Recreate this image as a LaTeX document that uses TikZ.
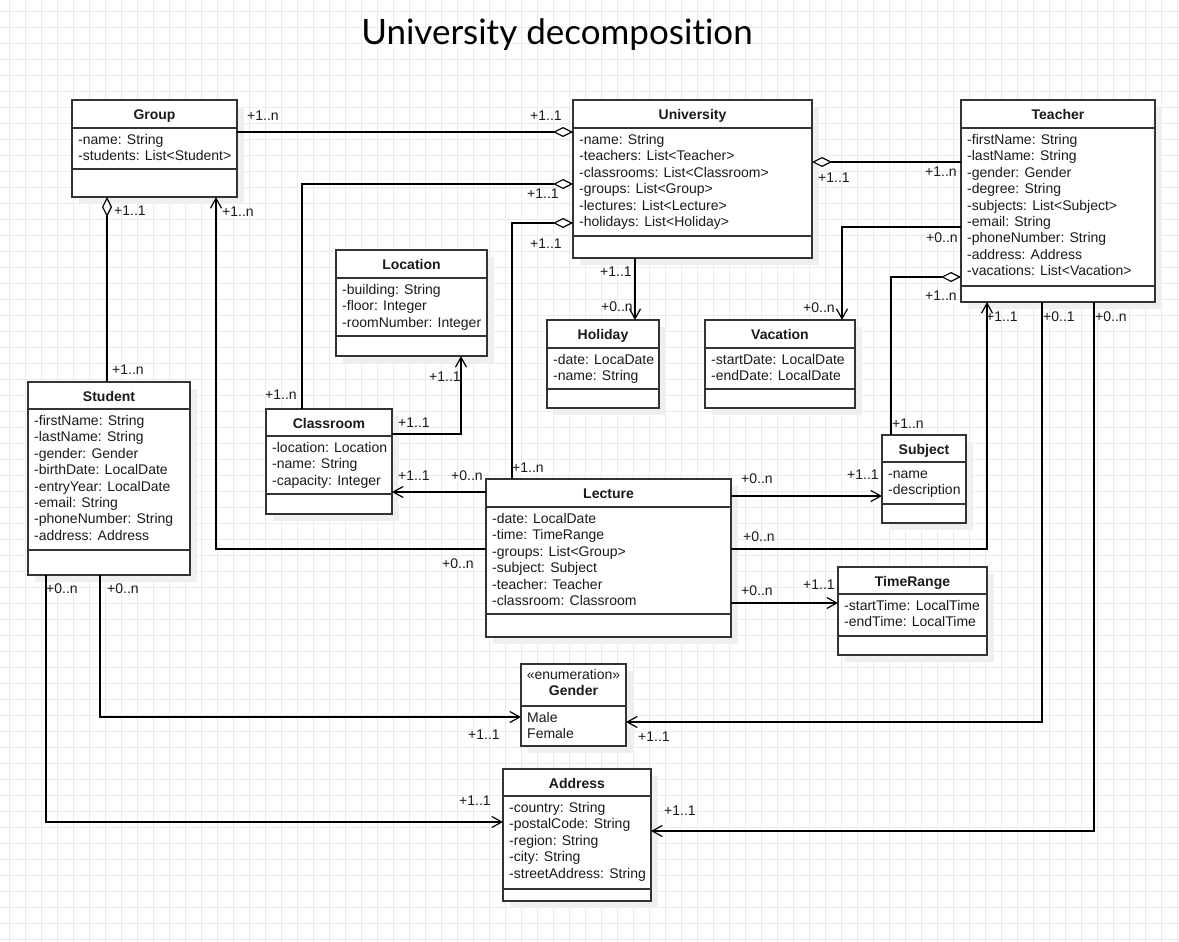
\documentclass[tikz,border=0pt]{standalone}
\usepackage{fontspec}
\setmainfont{Liberation Sans}
\newfontfamily\latofont[Ligatures=NoCommon]{Lato}
\usetikzlibrary{arrows.meta}
\definecolor{gridc}{HTML}{EBEBEB}
\definecolor{shadowc}{HTML}{EFEFEF}
\definecolor{boxc}{HTML}{333333}
\definecolor{txtc}{HTML}{1A1A1A}
\tikzset{
  classbox/.style={draw=boxc, line width=1.2pt, fill=white, rectangle, inner sep=0pt, outer sep=0pt},
  boxline/.style={draw=boxc, line width=1.2pt},
  shadowbox/.style={fill=shadowc},
  ctitle/.style={font=\fontsize{14}{16}\selectfont\bfseries, inner sep=0pt, anchor=base, text=txtc},
  attr/.style={font=\fontsize{14}{16}\selectfont, anchor=base west, inner sep=0pt, text=txtc},
  mult/.style={font=\fontsize{14}{16}\selectfont, anchor=west, inner sep=0pt, text=txtc},
  conn/.style={line width=1.2pt, draw=black},
  agg/.style={conn, {Diamond[fill=white, length=20pt, width=10pt]}-},
  nav/.style={conn, -{Straight Barb[length=10pt, width=11pt]}},
}
% #1 name, #2 left, #3 top, #4 right, #5 bottom, #6 header line, #7 separator, #8 title, #9 attributes
\newcommand\umlclass[9]{%
  \fill[shadowbox] (#2+7,#3+7) rectangle (#4+7,#5+7);
  \node[classbox, anchor=north west, minimum width={(#4-#2)*1pt}, minimum height={(#5-#3)*1pt}] (#1) at (#2,#3) {};
  \draw[boxline] (#2,#6) -- (#4,#6);
  \draw[boxline] (#2,#7) -- (#4,#7);
  \node[ctitle] at ({(#2+#4)/2},#3+19.5) {#8};
  \foreach \attrline [count=\k from 0] in {#9} {\node[attr] at (#2+6,#6+16.5+16.4*\k) {\attrline};}
}
\begin{document}
\begin{tikzpicture}[x=1pt,y=-1pt]
\useasboundingbox (0,0) rectangle (1179,942);
\fill[white] (0,0) rectangle (1179,942);
% grid
\foreach \g in {0,...,73} {\draw[gridc, line width=1pt] (9.3+16*\g,0) -- (9.3+16*\g,942);}
\foreach \g in {0,...,58} {\draw[gridc, line width=1pt] (0,11.3+16*\g) -- (1179,11.3+16*\g);}
% title
\node[font=\latofont\fontsize{35}{40}\selectfont, anchor=base, inner sep=0pt] (title) at (557,45) {University decomposition};
% classes
\umlclass{group}{72}{100}{237}{197}{128}{169}{Group}{-name: String,-students: List<Student>}
\umlclass{univ}{573}{100}{812}{258}{128}{236}{University}{-name: String,-teachers: List<Teacher>,-classrooms: List<Classroom>,-groups: List<Group>,-lectures: List<Lecture>,-holidays: List<Holiday>}
\umlclass{teacher}{961}{100}{1155}{302}{128}{286}{Teacher}{-firstName: String,-lastName: String,-gender: Gender,-degree: String,-subjects: List<Subject>,-email: String,-phoneNumber: String,-address: Address,-vacations: List<Vacation>}
\umlclass{location}{336}{250}{487}{356}{278}{336}{Location}{-building: String,-floor: Integer,-roomNumber: Integer}
\umlclass{classroom}{266}{409}{392}{514}{436}{494}{Classroom}{-location: Location,-name: String,-capacity: Integer}
\umlclass{holiday}{547}{320}{659}{408}{348}{389}{Holiday}{-date: LocaDate,-name: String}
\umlclass{vacation}{705}{320}{855}{408}{348}{389}{Vacation}{-startDate: LocalDate,-endDate: LocalDate}
\umlclass{student}{28}{382}{190}{575}{409}{550}{Student}{-firstName: String,-lastName: String,-gender: Gender,-birthDate: LocalDate,-entryYear: LocalDate,-email: String,-phoneNumber: String,-address: Address}
\umlclass{subject}{882}{435}{966}{523}{462}{504}{Subject}{-name,-description}
\umlclass{lecture}{486}{479}{731}{637}{507}{614}{Lecture}{-date: LocalDate,-time: TimeRange,-groups: List<Group>,-subject: Subject,-teacher: Teacher,-classroom: Classroom}
\umlclass{timerange}{838}{567}{987}{655}{594}{636}{TimeRange}{-startTime: LocalTime,-endTime: LocalTime}
\umlclass{address}{503}{769}{651}{901}{796}{889}{Address}{-country: String,-postalCode: String,-region: String,-city: String,-streetAddress: String}
% enumeration Gender
\fill[shadowbox] (528,671) rectangle (633,753);
\node[classbox, anchor=north west, minimum width=105pt, minimum height=82pt] (gender) at (521,664) {};
\draw[boxline] (521,706) -- (626,706);
\node[attr, anchor=base] (genderstereo) at (573.5,679) {«enumeration»};
\node[ctitle] (gendertitle) at (573.5,695.5) {Gender};
\node[attr] (gmale) at (527,722.5) {Male};
\node[attr] (gfemale) at (527,738.5) {Female};
% connectors
\draw[agg] (univ.west |- 0,132) -- (group.east |- 0,132);
\draw[agg] (univ.east |- 0,162) -- (teacher.west |- 0,162);
\draw[agg] (univ.west |- 0,184) -| (classroom.north -| 302,0);
\draw[agg] (univ.west |- 0,223) -| (lecture.north -| 512,0);
\draw[agg] (group.south -| 107,0) -- (student.north -| 107,0);
\draw[agg] (teacher.west |- 0,277) -| (subject.north -| 891,0);
\draw[nav] (teacher.west |- 0,227) -| (vacation.north -| 842,0);
\draw[nav] (univ.south -| 635,0) -- (holiday.north -| 635,0);
\draw[nav] (lecture.west |- 0,549) -| (group.south -| 216,0);
\draw[nav] (classroom.east |- 0,434) -| (location.south -| 461,0);
\draw[nav] (lecture.west |- 0,492) -- (classroom.east |- 0,492);
\draw[nav] (lecture.east |- 0,496) -- (subject.west |- 0,496);
\draw[nav] (lecture.east |- 0,549) -| (teacher.south -| 987,0);
\draw[nav] (lecture.east |- 0,603) -- (timerange.west |- 0,603);
\draw[nav] (teacher.south -| 1042,0) |- (gender.east |- 0,722);
\draw[nav] (teacher.south -| 1094,0) |- (address.east |- 0,831);
\draw[nav] (student.south -| 100,0) |- (gender.west |- 0,717);
\draw[nav] (student.south -| 46,0) |- (address.west |- 0,822);
% multiplicities
\node[mult] (m1) at (247,116) {+1..n};
\node[mult] (m2) at (530,116) {+1..1};
\node[mult] (m3) at (818,178) {+1..1};
\node[mult] (m4) at (925,172) {+1..n};
\node[mult] (m5) at (527,194) {+1..1};
\node[mult] (m6) at (265,395) {+1..n};
\node[mult] (m7) at (530,244) {+1..1};
\node[mult] (m8) at (512,468) {+1..n};
\node[mult] (m9) at (114,211) {+1..1};
\node[mult] (m10) at (112,370) {+1..n};
\node[mult] (m11) at (222,212) {+1..n};
\node[mult] (m12) at (442,564) {+0..n};
\node[mult] (m13) at (398,423) {+1..1};
\node[mult] (m14) at (429,377) {+1..1};
\node[mult] (m15) at (398,476) {+1..1};
\node[mult] (m16) at (451,476) {+0..n};
\node[mult] (m17) at (600,272) {+1..1};
\node[mult] (m18) at (601,307) {+0..n};
\node[mult] (m19) at (926,238) {+0..n};
\node[mult] (m20) at (803,308) {+0..n};
\node[mult] (m21) at (925,296) {+1..n};
\node[mult] (m22) at (892,424) {+1..n};
\node[mult] (m23) at (741,479) {+0..n};
\node[mult] (m24) at (847,475) {+1..1};
\node[mult] (m25) at (743,537) {+0..n};
\node[mult] (m26) at (986,317) {+1..1};
\node[mult] (m27) at (741,591) {+0..n};
\node[mult] (m28) at (803,585) {+1..1};
\node[mult] (m29) at (1043,317) {+0..1};
\node[mult] (m30) at (638,737) {+1..1};
\node[mult] (m31) at (1095,317) {+0..n};
\node[mult] (m32) at (664,811) {+1..1};
\node[mult] (m33) at (107,589) {+0..n};
\node[mult] (m34) at (468,735) {+1..1};
\node[mult] (m35) at (46,589) {+0..n};
\node[mult] (m36) at (459,801) {+1..1};
\end{tikzpicture}
\end{document}
